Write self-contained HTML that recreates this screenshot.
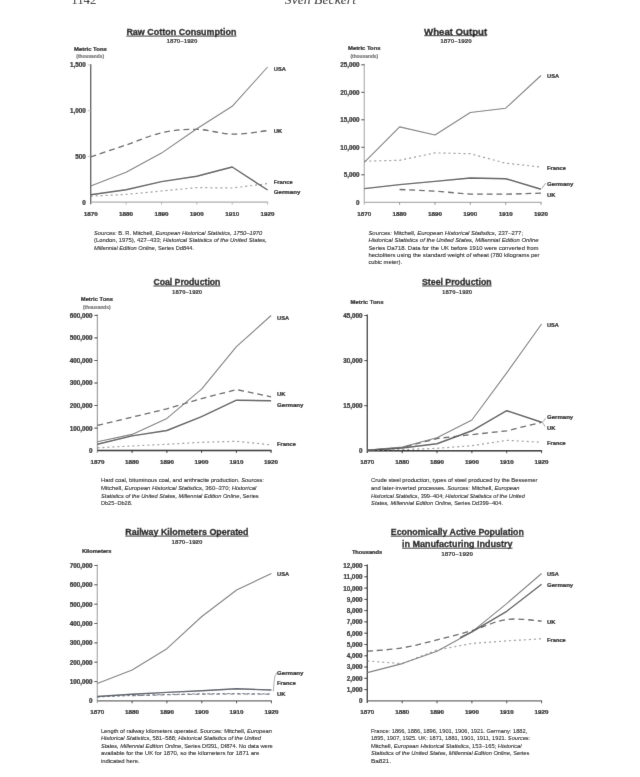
<!DOCTYPE html><html><head><meta charset="utf-8"><style>html,body{margin:0;padding:0;background:#fff;width:640px;height:777px;overflow:hidden}svg{display:block;font-family:"Liberation Sans",sans-serif}</style></head><body>
<svg width="640" height="777" viewBox="0 0 640 777" fill="#202020">
<defs><filter id="bl" x="0" y="0" width="640" height="777" filterUnits="userSpaceOnUse"><feConvolveMatrix order="3" kernelMatrix="0.0072 0.0847 0.0072 0.0847 1.0000 0.0847 0.0072 0.0847 0.0072" divisor="1.3673" edgeMode="duplicate"/></filter></defs>
<g filter="url(#bl)">
<rect width="640" height="777" fill="#fff"/>
<text x="71.2" y="3.7" font-size="12.6" font-family="Liberation Serif" fill="#222" textLength="25.3" lengthAdjust="spacingAndGlyphs">1142</text>
<text x="284.8" y="3.9" font-size="13.4" font-style="italic" font-family="Liberation Serif" fill="#222" textLength="71.2" lengthAdjust="spacingAndGlyphs">Sven Beckert</text>
<path d="M90.7 64.0V204.3" stroke="#4f4f4f" stroke-width="1.3" fill="none"/>
<path d="M90.7 202.1H268.1" stroke="#adadad" stroke-width="1.3" fill="none"/>
<path d="M126.1 202.1v2.4M161.5 202.1v2.4M196.8 202.1v2.4M232.2 202.1v2.4M267.6 202.1v2.4" stroke="#b0b0b0" stroke-width="1" fill="none"/>
<path d="M87.7 156.4h3M87.7 110.7h3M87.7 65.0h3" stroke="#c0c0c0" stroke-width="1" fill="none"/>
<text x="85.8" y="204.5" font-size="6.3" font-weight="bold" stroke="#202020" stroke-width="0.22" text-anchor="end">0</text>
<text x="85.8" y="158.8" font-size="6.3" font-weight="bold" stroke="#202020" stroke-width="0.22" text-anchor="end">500</text>
<text x="85.8" y="113.1" font-size="6.3" font-weight="bold" stroke="#202020" stroke-width="0.22" text-anchor="end">1,000</text>
<text x="85.8" y="67.4" font-size="6.3" font-weight="bold" stroke="#202020" stroke-width="0.22" text-anchor="end">1,500</text>
<text x="90.7" y="215.6" font-size="5.9" font-weight="bold" stroke="#202020" stroke-width="0.22" text-anchor="middle" textLength="14.0" lengthAdjust="spacingAndGlyphs">1870</text>
<text x="126.1" y="215.6" font-size="5.9" font-weight="bold" stroke="#202020" stroke-width="0.22" text-anchor="middle" textLength="14.0" lengthAdjust="spacingAndGlyphs">1880</text>
<text x="161.5" y="215.6" font-size="5.9" font-weight="bold" stroke="#202020" stroke-width="0.22" text-anchor="middle" textLength="14.0" lengthAdjust="spacingAndGlyphs">1890</text>
<text x="196.8" y="215.6" font-size="5.9" font-weight="bold" stroke="#202020" stroke-width="0.22" text-anchor="middle" textLength="14.0" lengthAdjust="spacingAndGlyphs">1900</text>
<text x="232.2" y="215.6" font-size="5.9" font-weight="bold" stroke="#202020" stroke-width="0.22" text-anchor="middle" textLength="14.0" lengthAdjust="spacingAndGlyphs">1910</text>
<text x="267.6" y="215.6" font-size="5.9" font-weight="bold" stroke="#202020" stroke-width="0.22" text-anchor="middle" textLength="14.0" lengthAdjust="spacingAndGlyphs">1920</text>
<path d="M90.7 196.2 L126.1 194.4 L161.5 191.0 L196.8 187.6 L232.2 188.0 L267.6 183.6" stroke="#999999" stroke-width="1.2" fill="none" stroke-linejoin="round" stroke-dasharray="2 3"/>
<path d="M90.7 156.9 C96.6 154.9 114.3 149.0 126.1 145.0 C137.9 141.0 149.7 135.4 161.5 132.8 C173.3 130.2 185.0 129.1 196.8 129.3 C208.6 129.5 220.4 134.0 232.2 134.2 C244.0 134.4 261.7 131.2 267.6 130.6" stroke="#606060" stroke-width="1.3" fill="none" stroke-linejoin="round" stroke-dasharray="5.8 3.9"/>
<path d="M90.7 186.0 L126.1 172.3 L161.5 153.1 L196.8 128.8 L232.2 106.3 L267.6 67.0" stroke="#7c7c7c" stroke-width="1.1" fill="none" stroke-linejoin="round"/>
<path d="M90.7 194.7 L126.1 189.7 L161.5 181.6 L196.8 176.3 L232.2 167.0 L267.6 190.0" stroke="#5a5a5a" stroke-width="1.45" fill="none" stroke-linejoin="round"/>
<text x="273.8" y="70.8" font-size="5.9" font-weight="bold" stroke="#202020" stroke-width="0.22" textLength="12.1" lengthAdjust="spacingAndGlyphs">USA</text>
<text x="273.8" y="132.6" font-size="5.9" font-weight="bold" stroke="#202020" stroke-width="0.22" textLength="8.4" lengthAdjust="spacingAndGlyphs">UK</text>
<text x="273.8" y="184.0" font-size="5.9" font-weight="bold" stroke="#202020" stroke-width="0.22" textLength="19.0" lengthAdjust="spacingAndGlyphs">France</text>
<text x="273.8" y="194.4" font-size="5.9" font-weight="bold" stroke="#202020" stroke-width="0.22" textLength="26.5" lengthAdjust="spacingAndGlyphs">Germany</text>
<text x="126.4" y="34.9" font-size="9.2" font-weight="bold" stroke="#1a1a1a" stroke-width="0.3" fill="#1a1a1a" textLength="110.1" lengthAdjust="spacingAndGlyphs">Raw Cotton Consumption</text>
<path d="M126.4 36.1h110.1" stroke="#222" stroke-width="0.9"/>
<text x="166.5" y="43.2" font-size="5.5" font-weight="bold" stroke="#202020" stroke-width="0.08" textLength="31.0" lengthAdjust="spacingAndGlyphs">1870–1920</text>
<text x="74.0" y="50.9" font-size="5.9" font-weight="bold" stroke="#202020" stroke-width="0.22" textLength="32.8" lengthAdjust="spacingAndGlyphs">Metric Tons</text>
<text x="76.3" y="58.0" font-size="4.8" font-weight="bold" stroke="#777" stroke-width="0.22" fill="#777" textLength="27.7" lengthAdjust="spacingAndGlyphs">(thousands)</text>
<text x="94.0" y="234.6" font-size="5.8" fill="#1a1a1a" stroke="#1a1a1a" stroke-width="0.1" textLength="168.2" lengthAdjust="spacingAndGlyphs" xml:space="preserve"><tspan font-style="italic">Sources:</tspan> B. R. Mitchell, <tspan font-style="italic">European Historical Statistics, 1750–1970</tspan></text>
<text x="94.0" y="242.1" font-size="5.8" fill="#1a1a1a" stroke="#1a1a1a" stroke-width="0.1" textLength="172.9" lengthAdjust="spacingAndGlyphs" xml:space="preserve">(London, 1975), 427–433; <tspan font-style="italic">Historical Statistics of the United States,</tspan></text>
<text x="94.0" y="249.6" font-size="5.8" fill="#1a1a1a" stroke="#1a1a1a" stroke-width="0.1" textLength="100.0" lengthAdjust="spacingAndGlyphs" xml:space="preserve"><tspan font-style="italic">Millennial Edition Online</tspan>, Series Dd844.</text>
<path d="M364.3 63.8V204.5" stroke="#b6b6b6" stroke-width="1.3" fill="none"/>
<path d="M364.3 202.3H541.5" stroke="#adadad" stroke-width="1.3" fill="none"/>
<path d="M399.6 202.3v2.4M435.0 202.3v2.4M470.3 202.3v2.4M505.7 202.3v2.4M541.0 202.3v2.4" stroke="#888888" stroke-width="1" fill="none"/>
<path d="M361.3 174.8h3M361.3 147.3h3M361.3 119.8h3M361.3 92.3h3M361.3 64.8h3" stroke="#444444" stroke-width="1" fill="none"/>
<text x="359.6" y="204.7" font-size="6.3" font-weight="bold" stroke="#202020" stroke-width="0.22" text-anchor="end">0</text>
<text x="359.6" y="177.2" font-size="6.3" font-weight="bold" stroke="#202020" stroke-width="0.22" text-anchor="end">5,000</text>
<text x="359.6" y="149.7" font-size="6.3" font-weight="bold" stroke="#202020" stroke-width="0.22" text-anchor="end">10,000</text>
<text x="359.6" y="122.2" font-size="6.3" font-weight="bold" stroke="#202020" stroke-width="0.22" text-anchor="end">15,000</text>
<text x="359.6" y="94.7" font-size="6.3" font-weight="bold" stroke="#202020" stroke-width="0.22" text-anchor="end">20,000</text>
<text x="359.6" y="67.2" font-size="6.3" font-weight="bold" stroke="#202020" stroke-width="0.22" text-anchor="end">25,000</text>
<text x="364.3" y="215.8" font-size="5.9" font-weight="bold" stroke="#202020" stroke-width="0.22" text-anchor="middle" textLength="14.0" lengthAdjust="spacingAndGlyphs">1870</text>
<text x="399.6" y="215.8" font-size="5.9" font-weight="bold" stroke="#202020" stroke-width="0.22" text-anchor="middle" textLength="14.0" lengthAdjust="spacingAndGlyphs">1880</text>
<text x="435.0" y="215.8" font-size="5.9" font-weight="bold" stroke="#202020" stroke-width="0.22" text-anchor="middle" textLength="14.0" lengthAdjust="spacingAndGlyphs">1890</text>
<text x="470.3" y="215.8" font-size="5.9" font-weight="bold" stroke="#202020" stroke-width="0.22" text-anchor="middle" textLength="14.0" lengthAdjust="spacingAndGlyphs">1900</text>
<text x="505.7" y="215.8" font-size="5.9" font-weight="bold" stroke="#202020" stroke-width="0.22" text-anchor="middle" textLength="14.0" lengthAdjust="spacingAndGlyphs">1910</text>
<text x="541.0" y="215.8" font-size="5.9" font-weight="bold" stroke="#202020" stroke-width="0.22" text-anchor="middle" textLength="14.0" lengthAdjust="spacingAndGlyphs">1920</text>
<path d="M364.3 161.2 L399.6 160.3 L435.0 152.9 L470.3 153.7 L505.7 163.2 L541.0 167.0" stroke="#999999" stroke-width="1.2" fill="none" stroke-linejoin="round" stroke-dasharray="2 3"/>
<path d="M399.6 189.5 L435.0 191.1 L470.3 194.2 L505.7 194.2 L541.0 193.2" stroke="#606060" stroke-width="1.3" fill="none" stroke-linejoin="round" stroke-dasharray="5.8 3.9"/>
<path d="M364.3 162.4 L399.6 126.9 L435.0 135.0 L470.3 112.5 L505.7 108.2 L541.0 75.5" stroke="#7c7c7c" stroke-width="1.1" fill="none" stroke-linejoin="round"/>
<path d="M364.3 188.6 L399.6 184.6 L435.0 181.4 L470.3 178.0 L505.7 178.7 L541.0 189.2" stroke="#5a5a5a" stroke-width="1.45" fill="none" stroke-linejoin="round"/>
<text x="547.0" y="77.8" font-size="5.9" font-weight="bold" stroke="#202020" stroke-width="0.22" textLength="12.1" lengthAdjust="spacingAndGlyphs">USA</text>
<text x="547.0" y="169.5" font-size="5.9" font-weight="bold" stroke="#202020" stroke-width="0.22" textLength="19.0" lengthAdjust="spacingAndGlyphs">France</text>
<text x="547.0" y="186.0" font-size="5.9" font-weight="bold" stroke="#202020" stroke-width="0.22" textLength="26.5" lengthAdjust="spacingAndGlyphs">Germany</text>
<text x="547.0" y="197.0" font-size="5.9" font-weight="bold" stroke="#202020" stroke-width="0.22" textLength="8.4" lengthAdjust="spacingAndGlyphs">UK</text>
<path d="M541.8 188.5L545.8 183" stroke="#777" stroke-width="0.7" fill="none"/>
<text x="424.1" y="34.5" font-size="9.2" font-weight="bold" stroke="#1a1a1a" stroke-width="0.3" fill="#1a1a1a" textLength="63.0" lengthAdjust="spacingAndGlyphs">Wheat Output</text>
<path d="M424.1 35.7h63.0" stroke="#222" stroke-width="0.9"/>
<text x="440.2" y="43.2" font-size="5.5" font-weight="bold" stroke="#202020" stroke-width="0.08" textLength="31.7" lengthAdjust="spacingAndGlyphs">1870–1920</text>
<text x="348.0" y="50.4" font-size="5.9" font-weight="bold" stroke="#202020" stroke-width="0.22" textLength="32.5" lengthAdjust="spacingAndGlyphs">Metric Tons</text>
<text x="350.4" y="58.0" font-size="4.8" font-weight="bold" stroke="#777" stroke-width="0.22" fill="#777" textLength="27.8" lengthAdjust="spacingAndGlyphs">(thousands)</text>
<text x="368.4" y="235.2" font-size="5.8" fill="#1a1a1a" stroke="#1a1a1a" stroke-width="0.1" textLength="154.7" lengthAdjust="spacingAndGlyphs" xml:space="preserve"><tspan font-style="italic">Sources:</tspan> Mitchell, <tspan font-style="italic">European Historical Statistics</tspan>, 237–277;</text>
<text x="368.4" y="242.4" font-size="5.8" fill="#1a1a1a" stroke="#1a1a1a" stroke-width="0.1" textLength="170.2" lengthAdjust="spacingAndGlyphs" xml:space="preserve"><tspan font-style="italic">Historical Statistics of the United States, Millennial Edition Online</tspan></text>
<text x="368.4" y="249.6" font-size="5.8" fill="#1a1a1a" stroke="#1a1a1a" stroke-width="0.1" textLength="170.2" lengthAdjust="spacingAndGlyphs" xml:space="preserve">Series Da718. Data for the UK before 1910 were converted from</text>
<text x="368.4" y="256.8" font-size="5.8" fill="#1a1a1a" stroke="#1a1a1a" stroke-width="0.1" textLength="171.2" lengthAdjust="spacingAndGlyphs" xml:space="preserve">hectoliters using the standard weight of wheat (780 kilograms per</text>
<text x="368.4" y="264.0" font-size="5.8" fill="#1a1a1a" stroke="#1a1a1a" stroke-width="0.1" textLength="33.7" lengthAdjust="spacingAndGlyphs" xml:space="preserve">cubic meter).</text>
<path d="M97.4 314.4V452.8" stroke="#a0a0a0" stroke-width="1.3" fill="none"/>
<path d="M97.4 450.6H271.6" stroke="#151515" stroke-width="1.5" fill="none"/>
<path d="M132.1 450.6v2.4M166.9 450.6v2.4M201.6 450.6v2.4M236.4 450.6v2.4M271.1 450.6v2.4" stroke="#333333" stroke-width="1" fill="none"/>
<path d="M94.4 428.1h3M94.4 405.5h3M94.4 383.0h3M94.4 360.5h3M94.4 337.9h3M94.4 315.4h3" stroke="#333333" stroke-width="1" fill="none"/>
<text x="92.4" y="453.0" font-size="6.3" font-weight="bold" stroke="#202020" stroke-width="0.22" text-anchor="end">0</text>
<text x="92.4" y="430.5" font-size="6.3" font-weight="bold" stroke="#202020" stroke-width="0.22" text-anchor="end">100,000</text>
<text x="92.4" y="407.9" font-size="6.3" font-weight="bold" stroke="#202020" stroke-width="0.22" text-anchor="end">200,000</text>
<text x="92.4" y="385.4" font-size="6.3" font-weight="bold" stroke="#202020" stroke-width="0.22" text-anchor="end">300,000</text>
<text x="92.4" y="362.9" font-size="6.3" font-weight="bold" stroke="#202020" stroke-width="0.22" text-anchor="end">400,000</text>
<text x="92.4" y="340.3" font-size="6.3" font-weight="bold" stroke="#202020" stroke-width="0.22" text-anchor="end">500,000</text>
<text x="92.4" y="317.8" font-size="6.3" font-weight="bold" stroke="#202020" stroke-width="0.22" text-anchor="end">600,000</text>
<text x="97.4" y="464.1" font-size="5.9" font-weight="bold" stroke="#202020" stroke-width="0.22" text-anchor="middle" textLength="14.0" lengthAdjust="spacingAndGlyphs">1870</text>
<text x="132.1" y="464.1" font-size="5.9" font-weight="bold" stroke="#202020" stroke-width="0.22" text-anchor="middle" textLength="14.0" lengthAdjust="spacingAndGlyphs">1880</text>
<text x="166.9" y="464.1" font-size="5.9" font-weight="bold" stroke="#202020" stroke-width="0.22" text-anchor="middle" textLength="14.0" lengthAdjust="spacingAndGlyphs">1890</text>
<text x="201.6" y="464.1" font-size="5.9" font-weight="bold" stroke="#202020" stroke-width="0.22" text-anchor="middle" textLength="14.0" lengthAdjust="spacingAndGlyphs">1900</text>
<text x="236.4" y="464.1" font-size="5.9" font-weight="bold" stroke="#202020" stroke-width="0.22" text-anchor="middle" textLength="14.0" lengthAdjust="spacingAndGlyphs">1910</text>
<text x="271.1" y="464.1" font-size="5.9" font-weight="bold" stroke="#202020" stroke-width="0.22" text-anchor="middle" textLength="14.0" lengthAdjust="spacingAndGlyphs">1920</text>
<path d="M97.4 447.8 L132.1 446.0 L166.9 444.3 L201.6 442.3 L236.4 441.3 L271.1 444.9" stroke="#999999" stroke-width="1.2" fill="none" stroke-linejoin="round" stroke-dasharray="2 3"/>
<path d="M97.4 425.4 L132.1 417.1 L166.9 408.8 L201.6 398.6 L236.4 389.6 L271.1 396.8" stroke="#606060" stroke-width="1.3" fill="none" stroke-linejoin="round" stroke-dasharray="5.8 3.9"/>
<path d="M97.4 441.7 L132.1 434.4 L166.9 418.4 L201.6 389.1 L236.4 346.7 L271.1 315.5" stroke="#7c7c7c" stroke-width="1.1" fill="none" stroke-linejoin="round"/>
<path d="M97.4 444.2 L132.1 435.9 L166.9 430.5 L201.6 416.6 L236.4 400.2 L271.1 400.7" stroke="#5a5a5a" stroke-width="1.45" fill="none" stroke-linejoin="round"/>
<text x="277.0" y="320.4" font-size="5.9" font-weight="bold" stroke="#202020" stroke-width="0.22" textLength="12.1" lengthAdjust="spacingAndGlyphs">USA</text>
<text x="277.0" y="396.2" font-size="5.9" font-weight="bold" stroke="#202020" stroke-width="0.22" textLength="8.4" lengthAdjust="spacingAndGlyphs">UK</text>
<text x="277.0" y="406.5" font-size="5.9" font-weight="bold" stroke="#202020" stroke-width="0.22" textLength="26.5" lengthAdjust="spacingAndGlyphs">Germany</text>
<text x="277.0" y="445.6" font-size="5.9" font-weight="bold" stroke="#202020" stroke-width="0.22" textLength="19.0" lengthAdjust="spacingAndGlyphs">France</text>
<text x="153.4" y="284.8" font-size="9.2" font-weight="bold" stroke="#1a1a1a" stroke-width="0.3" fill="#1a1a1a" textLength="67.0" lengthAdjust="spacingAndGlyphs">Coal Production</text>
<path d="M153.4 286.0h67.0" stroke="#222" stroke-width="0.9"/>
<text x="172.1" y="293.9" font-size="5.5" font-weight="bold" stroke="#202020" stroke-width="0.08" textLength="30.1" lengthAdjust="spacingAndGlyphs">1870–1920</text>
<text x="80.8" y="301.4" font-size="5.9" font-weight="bold" stroke="#202020" stroke-width="0.22" textLength="32.2" lengthAdjust="spacingAndGlyphs">Metric Tons</text>
<text x="83.0" y="308.6" font-size="4.8" font-weight="bold" stroke="#777" stroke-width="0.22" fill="#777" textLength="27.6" lengthAdjust="spacingAndGlyphs">(thousands)</text>
<text x="101.0" y="482.4" font-size="5.8" fill="#1a1a1a" stroke="#1a1a1a" stroke-width="0.1" textLength="163.1" lengthAdjust="spacingAndGlyphs" xml:space="preserve">Hard coal, bituminous coal, and anthracite production. <tspan font-style="italic">Sources:</tspan></text>
<text x="101.0" y="490.0" font-size="5.8" fill="#1a1a1a" stroke="#1a1a1a" stroke-width="0.1" textLength="155.3" lengthAdjust="spacingAndGlyphs" xml:space="preserve">Mitchell, <tspan font-style="italic">European Historical Statistics</tspan>, 360–370; <tspan font-style="italic">Historical</tspan></text>
<text x="101.0" y="497.5" font-size="5.8" fill="#1a1a1a" stroke="#1a1a1a" stroke-width="0.1" textLength="157.7" lengthAdjust="spacingAndGlyphs" xml:space="preserve"><tspan font-style="italic">Statistics of the United States, Millennial Edition Online</tspan>, Series</text>
<text x="101.0" y="505.1" font-size="5.8" fill="#1a1a1a" stroke="#1a1a1a" stroke-width="0.1" textLength="31.3" lengthAdjust="spacingAndGlyphs" xml:space="preserve">Db25–Db28.</text>
<path d="M367.3 314.5V453.0" stroke="#2d2d2d" stroke-width="1.3" fill="none"/>
<path d="M367.3 450.8H542.1" stroke="#151515" stroke-width="1.5" fill="none"/>
<path d="M402.2 450.8v2.4M437.0 450.8v2.4M471.9 450.8v2.4M506.7 450.8v2.4M541.6 450.8v2.4" stroke="#333333" stroke-width="1" fill="none"/>
<path d="M364.3 405.7h3M364.3 360.6h3M364.3 315.5h3" stroke="#333333" stroke-width="1" fill="none"/>
<text x="362.4" y="453.2" font-size="6.3" font-weight="bold" stroke="#202020" stroke-width="0.22" text-anchor="end">0</text>
<text x="362.4" y="408.1" font-size="6.3" font-weight="bold" stroke="#202020" stroke-width="0.22" text-anchor="end">15,000</text>
<text x="362.4" y="363.0" font-size="6.3" font-weight="bold" stroke="#202020" stroke-width="0.22" text-anchor="end">30,000</text>
<text x="362.4" y="317.9" font-size="6.3" font-weight="bold" stroke="#202020" stroke-width="0.22" text-anchor="end">45,000</text>
<text x="367.3" y="464.3" font-size="5.9" font-weight="bold" stroke="#202020" stroke-width="0.22" text-anchor="middle" textLength="14.0" lengthAdjust="spacingAndGlyphs">1870</text>
<text x="402.2" y="464.3" font-size="5.9" font-weight="bold" stroke="#202020" stroke-width="0.22" text-anchor="middle" textLength="14.0" lengthAdjust="spacingAndGlyphs">1880</text>
<text x="437.0" y="464.3" font-size="5.9" font-weight="bold" stroke="#202020" stroke-width="0.22" text-anchor="middle" textLength="14.0" lengthAdjust="spacingAndGlyphs">1890</text>
<text x="471.9" y="464.3" font-size="5.9" font-weight="bold" stroke="#202020" stroke-width="0.22" text-anchor="middle" textLength="14.0" lengthAdjust="spacingAndGlyphs">1900</text>
<text x="506.7" y="464.3" font-size="5.9" font-weight="bold" stroke="#202020" stroke-width="0.22" text-anchor="middle" textLength="14.0" lengthAdjust="spacingAndGlyphs">1910</text>
<text x="541.6" y="464.3" font-size="5.9" font-weight="bold" stroke="#202020" stroke-width="0.22" text-anchor="middle" textLength="14.0" lengthAdjust="spacingAndGlyphs">1920</text>
<path d="M367.3 450.6 L402.2 449.6 L437.0 448.3 L471.9 445.7 L506.7 440.3 L541.6 442.3" stroke="#999999" stroke-width="1.2" fill="none" stroke-linejoin="round" stroke-dasharray="2 3"/>
<path d="M367.3 450.3 L402.2 447.6 L437.0 438.5 L471.9 434.6 L506.7 430.8 L541.6 422.3" stroke="#606060" stroke-width="1.3" fill="none" stroke-linejoin="round" stroke-dasharray="5.8 3.9"/>
<path d="M367.3 450.0 L402.2 447.0 L437.0 437.8 L471.9 420.0 L506.7 372.9 L541.6 324.0" stroke="#7c7c7c" stroke-width="1.1" fill="none" stroke-linejoin="round"/>
<path d="M367.3 450.2 L402.2 448.0 L437.0 443.7 L471.9 430.8 L506.7 410.7 L541.6 422.3" stroke="#5a5a5a" stroke-width="1.45" fill="none" stroke-linejoin="round"/>
<text x="547.0" y="326.5" font-size="5.9" font-weight="bold" stroke="#202020" stroke-width="0.22" textLength="11.9" lengthAdjust="spacingAndGlyphs">USA</text>
<text x="547.0" y="419.2" font-size="5.9" font-weight="bold" stroke="#202020" stroke-width="0.22" textLength="26.2" lengthAdjust="spacingAndGlyphs">Germany</text>
<text x="547.0" y="429.7" font-size="5.9" font-weight="bold" stroke="#202020" stroke-width="0.22" textLength="8.4" lengthAdjust="spacingAndGlyphs">UK</text>
<text x="547.0" y="445.1" font-size="5.9" font-weight="bold" stroke="#202020" stroke-width="0.22" textLength="18.8" lengthAdjust="spacingAndGlyphs">France</text>
<path d="M542.3 422.3Q544 421 545.5 418.3M542.3 422.3Q544 424 544.8 426.5" stroke="#777" stroke-width="0.7" fill="none"/>
<text x="422.0" y="284.8" font-size="9.2" font-weight="bold" stroke="#1a1a1a" stroke-width="0.3" fill="#1a1a1a" textLength="69.6" lengthAdjust="spacingAndGlyphs">Steel Production</text>
<path d="M422.0 286.0h69.6" stroke="#222" stroke-width="0.9"/>
<text x="442.1" y="293.9" font-size="5.5" font-weight="bold" stroke="#202020" stroke-width="0.08" textLength="30.1" lengthAdjust="spacingAndGlyphs">1870–1920</text>
<text x="350.6" y="303.6" font-size="5.9" font-weight="bold" stroke="#202020" stroke-width="0.22" textLength="32.9" lengthAdjust="spacingAndGlyphs">Metric Tons</text>
<text x="371.1" y="482.4" font-size="5.8" fill="#1a1a1a" stroke="#1a1a1a" stroke-width="0.1" textLength="166.3" lengthAdjust="spacingAndGlyphs" xml:space="preserve">Crude steel production, types of steel produced by the Bessemer</text>
<text x="371.1" y="490.0" font-size="5.8" fill="#1a1a1a" stroke="#1a1a1a" stroke-width="0.1" textLength="148.4" lengthAdjust="spacingAndGlyphs" xml:space="preserve">and later-inverted processes. <tspan font-style="italic">Sources:</tspan> Mitchell, <tspan font-style="italic">European</tspan></text>
<text x="371.1" y="497.5" font-size="5.8" fill="#1a1a1a" stroke="#1a1a1a" stroke-width="0.1" textLength="153.7" lengthAdjust="spacingAndGlyphs" xml:space="preserve"><tspan font-style="italic">Historical Statistics</tspan>, 399–404; <tspan font-style="italic">Historical Statistics of the United</tspan></text>
<text x="371.1" y="505.1" font-size="5.8" fill="#1a1a1a" stroke="#1a1a1a" stroke-width="0.1" textLength="131.9" lengthAdjust="spacingAndGlyphs" xml:space="preserve"><tspan font-style="italic">States, Millennial Edition Online</tspan>, Series Dd399–404.</text>
<path d="M97.3 564.5V703.1" stroke="#b0b0b0" stroke-width="1.3" fill="none"/>
<path d="M97.3 700.9H271.9" stroke="#646464" stroke-width="1.3" fill="none"/>
<path d="M132.1 700.9v2.4M166.9 700.9v2.4M201.8 700.9v2.4M236.6 700.9v2.4M271.4 700.9v2.4" stroke="#444444" stroke-width="1" fill="none"/>
<path d="M94.3 681.6h3M94.3 662.2h3M94.3 642.9h3M94.3 623.5h3M94.3 604.2h3M94.3 584.8h3M94.3 565.5h3" stroke="#444444" stroke-width="1" fill="none"/>
<text x="92.4" y="703.3" font-size="6.3" font-weight="bold" stroke="#202020" stroke-width="0.22" text-anchor="end">0</text>
<text x="92.4" y="684.0" font-size="6.3" font-weight="bold" stroke="#202020" stroke-width="0.22" text-anchor="end">100,000</text>
<text x="92.4" y="664.6" font-size="6.3" font-weight="bold" stroke="#202020" stroke-width="0.22" text-anchor="end">200,000</text>
<text x="92.4" y="645.3" font-size="6.3" font-weight="bold" stroke="#202020" stroke-width="0.22" text-anchor="end">300,000</text>
<text x="92.4" y="625.9" font-size="6.3" font-weight="bold" stroke="#202020" stroke-width="0.22" text-anchor="end">400,000</text>
<text x="92.4" y="606.6" font-size="6.3" font-weight="bold" stroke="#202020" stroke-width="0.22" text-anchor="end">500,000</text>
<text x="92.4" y="587.2" font-size="6.3" font-weight="bold" stroke="#202020" stroke-width="0.22" text-anchor="end">600,000</text>
<text x="92.4" y="567.9" font-size="6.3" font-weight="bold" stroke="#202020" stroke-width="0.22" text-anchor="end">700,000</text>
<text x="97.3" y="714.4" font-size="5.9" font-weight="bold" stroke="#202020" stroke-width="0.22" text-anchor="middle" textLength="14.0" lengthAdjust="spacingAndGlyphs">1870</text>
<text x="132.1" y="714.4" font-size="5.9" font-weight="bold" stroke="#202020" stroke-width="0.22" text-anchor="middle" textLength="14.0" lengthAdjust="spacingAndGlyphs">1880</text>
<text x="166.9" y="714.4" font-size="5.9" font-weight="bold" stroke="#202020" stroke-width="0.22" text-anchor="middle" textLength="14.0" lengthAdjust="spacingAndGlyphs">1890</text>
<text x="201.8" y="714.4" font-size="5.9" font-weight="bold" stroke="#202020" stroke-width="0.22" text-anchor="middle" textLength="14.0" lengthAdjust="spacingAndGlyphs">1900</text>
<text x="236.6" y="714.4" font-size="5.9" font-weight="bold" stroke="#202020" stroke-width="0.22" text-anchor="middle" textLength="14.0" lengthAdjust="spacingAndGlyphs">1910</text>
<text x="271.4" y="714.4" font-size="5.9" font-weight="bold" stroke="#202020" stroke-width="0.22" text-anchor="middle" textLength="14.0" lengthAdjust="spacingAndGlyphs">1920</text>
<path d="M97.3 697.0 L132.1 695.5 L166.9 694.5 L201.8 693.8 L236.6 693.6 L271.4 694.0" stroke="#5a6a8a" stroke-width="1.0" fill="none" stroke-linejoin="round" stroke-dasharray="2.5 2.5"/>
<path d="M132.1 695.8 L166.9 694.8 L201.8 694.2 L236.6 694.0 L271.4 694.2" stroke="#777" stroke-width="1.0" fill="none" stroke-linejoin="round" stroke-dasharray="4 3"/>
<path d="M97.3 683.4 L132.1 670.0 L166.9 648.7 L201.8 616.5 L236.6 590.0 L271.4 573.5" stroke="#7c7c7c" stroke-width="1.1" fill="none" stroke-linejoin="round"/>
<path d="M97.3 696.5 L132.1 694.3 L166.9 692.4 L201.8 690.8 L236.6 688.8 L271.4 690.0" stroke="#555a62" stroke-width="1.4" fill="none" stroke-linejoin="round"/>
<text x="277.0" y="576.0" font-size="5.9" font-weight="bold" stroke="#202020" stroke-width="0.22" textLength="12.1" lengthAdjust="spacingAndGlyphs">USA</text>
<text x="277.0" y="674.5" font-size="5.9" font-weight="bold" stroke="#202020" stroke-width="0.22" textLength="26.5" lengthAdjust="spacingAndGlyphs">Germany</text>
<text x="277.0" y="684.8" font-size="5.9" font-weight="bold" stroke="#202020" stroke-width="0.22" textLength="19.0" lengthAdjust="spacingAndGlyphs">France</text>
<text x="277.0" y="695.6" font-size="5.9" font-weight="bold" stroke="#202020" stroke-width="0.22" textLength="8.4" lengthAdjust="spacingAndGlyphs">UK</text>
<path d="M276.8 672.5Q274 676 274 683L273.3 691.5" stroke="#888" stroke-width="0.7" fill="none"/>
<text x="125.3" y="534.9" font-size="9.2" font-weight="bold" stroke="#1a1a1a" stroke-width="0.3" fill="#1a1a1a" textLength="123.2" lengthAdjust="spacingAndGlyphs">Railway Kilometers Operated</text>
<path d="M125.3 536.1h123.2" stroke="#222" stroke-width="0.9"/>
<text x="171.5" y="543.7" font-size="5.5" font-weight="bold" stroke="#202020" stroke-width="0.08" textLength="31.0" lengthAdjust="spacingAndGlyphs">1870–1920</text>
<text x="81.9" y="553.3" font-size="5.7" font-weight="bold" stroke="#202020" stroke-width="0.22" textLength="29.6" lengthAdjust="spacingAndGlyphs">Kilometers</text>
<text x="100.9" y="732.9" font-size="5.8" fill="#1a1a1a" stroke="#1a1a1a" stroke-width="0.1" textLength="171.0" lengthAdjust="spacingAndGlyphs" xml:space="preserve">Length of railway kilometers operated. <tspan font-style="italic">Sources:</tspan> Mitchell, <tspan font-style="italic">European</tspan></text>
<text x="100.9" y="740.4" font-size="5.8" fill="#1a1a1a" stroke="#1a1a1a" stroke-width="0.1" textLength="160.0" lengthAdjust="spacingAndGlyphs" xml:space="preserve"><tspan font-style="italic">Historical Statistics</tspan>, 581–588; <tspan font-style="italic">Historical Statistics of the United</tspan></text>
<text x="100.9" y="747.9" font-size="5.8" fill="#1a1a1a" stroke="#1a1a1a" stroke-width="0.1" textLength="171.9" lengthAdjust="spacingAndGlyphs" xml:space="preserve"><tspan font-style="italic">States, Millennial Edition Online</tspan>, Series Df391, Df874. No data were</text>
<text x="100.9" y="755.4" font-size="5.8" fill="#1a1a1a" stroke="#1a1a1a" stroke-width="0.1" textLength="158.5" lengthAdjust="spacingAndGlyphs" xml:space="preserve">available for the UK for 1870, so the kilometers for 1871 are</text>
<text x="100.9" y="762.9" font-size="5.8" fill="#1a1a1a" stroke="#1a1a1a" stroke-width="0.1" textLength="38.7" lengthAdjust="spacingAndGlyphs" xml:space="preserve">indicated here.</text>
<path d="M367.3 564.5V703.1" stroke="#242424" stroke-width="1.3" fill="none"/>
<path d="M367.3 700.9H542.1" stroke="#676767" stroke-width="1.3" fill="none"/>
<path d="M402.2 700.9v2.4M437.0 700.9v2.4M471.9 700.9v2.4M506.7 700.9v2.4M541.6 700.9v2.4" stroke="#444444" stroke-width="1" fill="none"/>
<path d="M364.3 689.6h3M364.3 678.3h3M364.3 667.0h3M364.3 655.8h3M364.3 644.5h3M364.3 633.2h3M364.3 621.9h3M364.3 610.6h3M364.3 599.4h3M364.3 588.1h3M364.3 576.8h3M364.3 565.5h3" stroke="#333333" stroke-width="1" fill="none"/>
<text x="362.4" y="703.3" font-size="6.3" font-weight="bold" stroke="#202020" stroke-width="0.22" text-anchor="end">0</text>
<text x="362.4" y="692.0" font-size="6.3" font-weight="bold" stroke="#202020" stroke-width="0.22" text-anchor="end">1,000</text>
<text x="362.4" y="680.7" font-size="6.3" font-weight="bold" stroke="#202020" stroke-width="0.22" text-anchor="end">2,000</text>
<text x="362.4" y="669.4" font-size="6.3" font-weight="bold" stroke="#202020" stroke-width="0.22" text-anchor="end">3,000</text>
<text x="362.4" y="658.2" font-size="6.3" font-weight="bold" stroke="#202020" stroke-width="0.22" text-anchor="end">4,000</text>
<text x="362.4" y="646.9" font-size="6.3" font-weight="bold" stroke="#202020" stroke-width="0.22" text-anchor="end">5,000</text>
<text x="362.4" y="635.6" font-size="6.3" font-weight="bold" stroke="#202020" stroke-width="0.22" text-anchor="end">6,000</text>
<text x="362.4" y="624.3" font-size="6.3" font-weight="bold" stroke="#202020" stroke-width="0.22" text-anchor="end">7,000</text>
<text x="362.4" y="613.0" font-size="6.3" font-weight="bold" stroke="#202020" stroke-width="0.22" text-anchor="end">8,000</text>
<text x="362.4" y="601.7" font-size="6.3" font-weight="bold" stroke="#202020" stroke-width="0.22" text-anchor="end">9,000</text>
<text x="362.4" y="590.5" font-size="6.3" font-weight="bold" stroke="#202020" stroke-width="0.22" text-anchor="end">10,000</text>
<text x="362.4" y="579.2" font-size="6.3" font-weight="bold" stroke="#202020" stroke-width="0.22" text-anchor="end">11,000</text>
<text x="362.4" y="567.9" font-size="6.3" font-weight="bold" stroke="#202020" stroke-width="0.22" text-anchor="end">12,000</text>
<text x="367.3" y="714.4" font-size="5.9" font-weight="bold" stroke="#202020" stroke-width="0.22" text-anchor="middle" textLength="14.0" lengthAdjust="spacingAndGlyphs">1870</text>
<text x="402.2" y="714.4" font-size="5.9" font-weight="bold" stroke="#202020" stroke-width="0.22" text-anchor="middle" textLength="14.0" lengthAdjust="spacingAndGlyphs">1880</text>
<text x="437.0" y="714.4" font-size="5.9" font-weight="bold" stroke="#202020" stroke-width="0.22" text-anchor="middle" textLength="14.0" lengthAdjust="spacingAndGlyphs">1890</text>
<text x="471.9" y="714.4" font-size="5.9" font-weight="bold" stroke="#202020" stroke-width="0.22" text-anchor="middle" textLength="14.0" lengthAdjust="spacingAndGlyphs">1900</text>
<text x="506.7" y="714.4" font-size="5.9" font-weight="bold" stroke="#202020" stroke-width="0.22" text-anchor="middle" textLength="14.0" lengthAdjust="spacingAndGlyphs">1910</text>
<text x="541.6" y="714.4" font-size="5.9" font-weight="bold" stroke="#202020" stroke-width="0.22" text-anchor="middle" textLength="14.0" lengthAdjust="spacingAndGlyphs">1920</text>
<path d="M367.3 661.0 L402.2 663.6 L437.0 650.0 L471.9 643.5 L506.7 640.9 L541.6 638.8" stroke="#999999" stroke-width="1.2" fill="none" stroke-linejoin="round" stroke-dasharray="2 3"/>
<path d="M367.3 651.2 C373.1 650.7 390.5 649.8 402.2 647.9 C413.8 646.0 425.4 642.8 437.0 639.9 C448.6 637.0 460.3 634.0 471.9 630.6 C483.5 627.2 495.1 621.1 506.7 619.5 C518.4 617.9 535.8 620.8 541.6 621.1" stroke="#606060" stroke-width="1.3" fill="none" stroke-linejoin="round" stroke-dasharray="5.8 3.9"/>
<path d="M367.3 672.6 L402.2 663.6 L437.0 651.2 L471.9 631.9 L506.7 603.6 L541.6 573.5" stroke="#7c7c7c" stroke-width="1.1" fill="none" stroke-linejoin="round"/>
<path d="M460.0 637.7 L471.9 631.9 L506.7 611.3 L541.6 584.3" stroke="#5a5a5a" stroke-width="1.45" fill="none" stroke-linejoin="round"/>
<text x="547.0" y="576.0" font-size="5.9" font-weight="bold" stroke="#202020" stroke-width="0.22" textLength="11.9" lengthAdjust="spacingAndGlyphs">USA</text>
<text x="547.0" y="586.8" font-size="5.9" font-weight="bold" stroke="#202020" stroke-width="0.22" textLength="26.2" lengthAdjust="spacingAndGlyphs">Germany</text>
<text x="547.0" y="623.6" font-size="5.9" font-weight="bold" stroke="#202020" stroke-width="0.22" textLength="8.4" lengthAdjust="spacingAndGlyphs">UK</text>
<text x="547.0" y="641.6" font-size="5.9" font-weight="bold" stroke="#202020" stroke-width="0.22" textLength="18.8" lengthAdjust="spacingAndGlyphs">France</text>
<text x="390.8" y="535.0" font-size="9.2" font-weight="bold" stroke="#1a1a1a" stroke-width="0.3" fill="#1a1a1a" textLength="133.0" lengthAdjust="spacingAndGlyphs">Economically Active Population</text>
<path d="M390.8 536.2h133.0" stroke="#222" stroke-width="0.9"/>
<text x="402.0" y="547.0" font-size="9.2" font-weight="bold" stroke="#1a1a1a" stroke-width="0.3" fill="#1a1a1a" textLength="110.5" lengthAdjust="spacingAndGlyphs">in Manufacturing Industry</text>
<path d="M402.0 548.2h110.5" stroke="#222" stroke-width="0.9"/>
<text x="441.2" y="555.5" font-size="5.5" font-weight="bold" stroke="#202020" stroke-width="0.08" textLength="31.8" lengthAdjust="spacingAndGlyphs">1870–1920</text>
<text x="351.9" y="553.6" font-size="5.7" font-weight="bold" stroke="#202020" stroke-width="0.22" textLength="30.3" lengthAdjust="spacingAndGlyphs">Thousands</text>
<text x="370.9" y="732.9" font-size="5.8" fill="#1a1a1a" stroke="#1a1a1a" stroke-width="0.1" textLength="156.3" lengthAdjust="spacingAndGlyphs" xml:space="preserve">France: 1866, 1886, 1896, 1901, 1906, 1921. Germany: 1882,</text>
<text x="370.9" y="740.4" font-size="5.8" fill="#1a1a1a" stroke="#1a1a1a" stroke-width="0.1" textLength="159.4" lengthAdjust="spacingAndGlyphs" xml:space="preserve">1895, 1907, 1925. UK: 1871, 1881, 1901, 1911, 1921. <tspan font-style="italic">Sources:</tspan></text>
<text x="370.9" y="747.9" font-size="5.8" fill="#1a1a1a" stroke="#1a1a1a" stroke-width="0.1" textLength="150.7" lengthAdjust="spacingAndGlyphs" xml:space="preserve">Mitchell, <tspan font-style="italic">European Historical Statistics</tspan>, 153–165; <tspan font-style="italic">Historical</tspan></text>
<text x="370.9" y="755.4" font-size="5.8" fill="#1a1a1a" stroke="#1a1a1a" stroke-width="0.1" textLength="158.5" lengthAdjust="spacingAndGlyphs" xml:space="preserve"><tspan font-style="italic">Statistics of the United States, Millennial Edition Online</tspan>, Series</text>
<text x="370.9" y="762.9" font-size="5.8" fill="#1a1a1a" stroke="#1a1a1a" stroke-width="0.1" textLength="20.3" lengthAdjust="spacingAndGlyphs" xml:space="preserve">Ba821.</text>
</g></svg></body></html>
